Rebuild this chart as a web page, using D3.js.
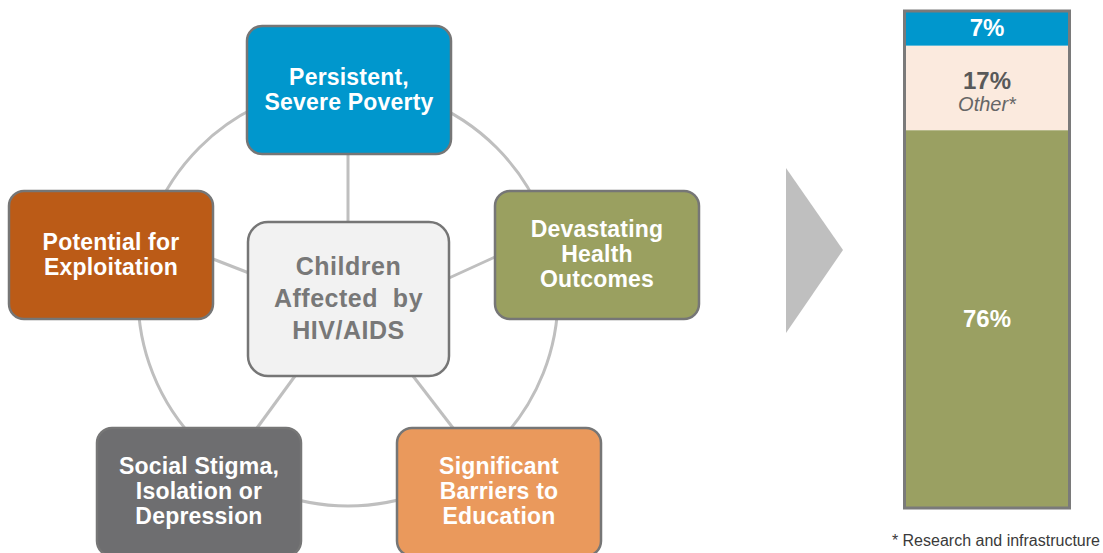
<!DOCTYPE html>
<html>
<head>
<meta charset="utf-8">
<script src="https://cdn.jsdelivr.net/npm/d3@7"></script>
<style>
  body { margin: 0; background: #fff; }
  svg { display: block; font-family: "Liberation Sans", Arial, sans-serif; }
</style>
</head>
<body>
<svg id="chart" width="1103" height="553"></svg>
<script>
// hub + surrounding factors
const hubLines = ["Children", "Affected  by", "HIV/AIDS"]
const factorLines = [
  ["Persistent,", "Severe Poverty"],
  ["Potential for", "Exploitation"],
  ["Devastating", "Health", "Outcomes"],
  ["Social Stigma,", "Isolation or", "Depression"],
  ["Significant", "Barriers to", "Education"]
]

// spending split (stacked bar, top to bottom)
const shareValues = [7, 17, 76]
const shareLabels = ["7%", "17%", "76%"]
const shareNotes = ["", "Other*", ""]
const footnote = "* Research and infrastructure"

// layout + colours (kept apart from the data)
const factorFill = ["#0097cd", "#bb5b17", "#9aa060", "#6e6e70", "#ea995c"]
const factorPos = [
  {x: 247, y: 26}, {x: 9, y: 191}, {x: 495, y: 191},
  {x: 97, y: 428}, {x: 397, y: 428}
]
const spokes = [
  [348, 155, 348, 222],
  [213, 259, 249, 273],
  [449, 278, 495, 257],
  [295, 376, 257, 428],
  [413, 376, 453, 428]
]
const shareFill = ["#0097cd", "#fbeade", "#9aa062"]
const shareText = ["#fff", "#595959", "#fff"]

const svg = d3.select("#chart")
const grey = "#bfbfbf"

// ring behind everything
svg.append("circle")
  .attr("cx", 348).attr("cy", 296).attr("r", 210)
  .attr("fill", "none")
  .attr("stroke", grey)
  .attr("stroke-width", 3)

svg.append("g")
  .selectAll("line")
  .data(spokes)
  .join("line")
  .attr("x1", d => d[0]).attr("y1", d => d[1])
  .attr("x2", d => d[2]).attr("y2", d => d[3])
  .attr("stroke", grey)
  .attr("stroke-width", 3)

const boxW = 204, boxH = 128

const factor = svg.append("g")
  .selectAll("g")
  .data(factorLines)
  .join("g")
  .attr("transform", (d, i) => `translate(${factorPos[i].x},${factorPos[i].y})`)

factor.append("rect")
  .attr("width", boxW).attr("height", boxH)
  .attr("rx", 15)
  .attr("fill", (d, i) => factorFill[i])
  .attr("stroke", "#767676")
  .attr("stroke-width", 2.5)

factor.append("text")
  .attr("text-anchor", "middle")
  .attr("fill", "#fff")
  .attr("font-size", 23)
  .attr("font-weight", "bold")
  .attr("letter-spacing", 0.2)
  .each(function(lines) {
    const t = d3.select(this)
    const top = boxH / 2 + 7 - (lines.length - 1) * 25 / 2
    lines.forEach((s, k) => {
      t.append("tspan")
        .attr("x", boxW / 2)
        .attr("y", top + k * 25)
        .text(s)
    })
  })

// centre box
const hub = svg.append("g").attr("transform", "translate(248,222)")
hub.append("rect")
  .attr("width", 201).attr("height", 154)
  .attr("rx", 20)
  .attr("fill", "#f2f2f2")
  .attr("stroke", "#767676")
  .attr("stroke-width", 2.5)
hub.append("text")
  .attr("text-anchor", "middle")
  .attr("fill", "#787878")
  .attr("font-size", 25)
  .attr("font-weight", "bold")
  .attr("letter-spacing", 0.5)
  .selectAll("tspan")
  .data(hubLines)
  .join("tspan")
  .attr("x", 100.5)
  .attr("y", (d, i) => 53 + i * 32)
  .style("white-space", "pre")
  .text(d => d)

// grey arrow
svg.append("path")
  .attr("d", d3.line()([[786, 168], [843, 250], [786, 333]]) + "Z")
  .attr("fill", "#bfbfbf")

// stacked bar
const barX = 904.5, barW = 165
const y = d3.scaleLinear().domain([0, 100]).range([11, 508])
const stack = d3.cumsum(shareValues)
const segs = shareValues.map((v, i) => ({
  v, label: shareLabels[i], note: shareNotes[i],
  y0: stack[i] - v, y1: stack[i], i
}))

const bar = svg.append("g")
bar.selectAll("rect")
  .data(segs)
  .join("rect")
  .attr("x", barX).attr("width", barW)
  .attr("y", d => y(d.y0))
  .attr("height", d => y(d.y1) - y(d.y0))
  .attr("fill", d => shareFill[d.i])

bar.append("rect")
  .attr("x", barX).attr("y", y(0))
  .attr("width", barW).attr("height", y(100) - y(0))
  .attr("fill", "none")
  .attr("stroke", "#7a7a7a")
  .attr("stroke-width", 3)

const cx = barX + barW / 2
bar.selectAll("text.pct")
  .data(segs)
  .join("text")
  .attr("class", "pct")
  .attr("x", cx)
  .attr("y", d => d.note ? y(d.y0) + 43 : (y(d.y0) + y(d.y1)) / 2 + 8)
  .attr("text-anchor", "middle")
  .attr("font-size", 24)
  .attr("font-weight", "bold")
  .attr("fill", d => shareText[d.i])
  .text(d => d.label)

bar.selectAll("text.note")
  .data(segs.filter(d => d.note))
  .join("text")
  .attr("class", "note")
  .attr("x", cx)
  .attr("y", d => y(d.y0) + 65)
  .attr("text-anchor", "middle")
  .attr("font-size", 20)
  .attr("font-style", "italic")
  .attr("fill", "#666")
  .text(d => d.note)

svg.append("text")
  .attr("x", 1100).attr("y", 546)
  .attr("text-anchor", "end")
  .attr("font-size", 16)
  .attr("fill", "#3a3a3a")
  .text(footnote)
</script>
</body>
</html>
